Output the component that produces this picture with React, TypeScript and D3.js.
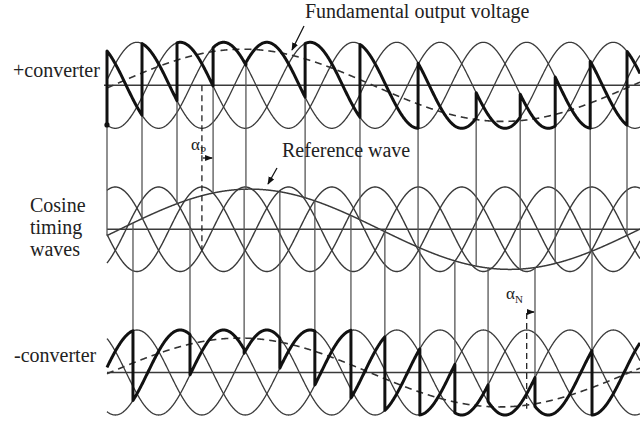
import React, { useEffect } from 'react';
import * as d3 from 'd3';

const W = 640;
const H = 429;

// angles are in electrical degrees of the input supply
const thetaMax = 1477;
// angle at which each input phase voltage peaks
const phasePeaksDeg = [-37, 83, 203];
// angle at which each cosine timing wave peaks
const timingPeaksDeg = [23, 143, 263];
// reference (modulating) wave
const refZeroDeg = 36;
const refPeriodDeg = 1440;
const refAmp = 0.95;
// fundamental output voltage of the + and - converter
const fundAmp = [0.84, 0.81];
const fundZeroDeg = [17, 8];
// firing instants
const firingPos = [0, 97, 194, 294, 385, 549, 701, 862, 1023, 1145, 1242, 1339, 1441];
const firingNeg = [72, 230, 380, 479, 576, 676, 770, 867, 964, 1056, 1186, 1344];
// alpha markers
const alphaPDeg = 263;
const alphaPFiring = 294;
const alphaNDeg = 1163;
const alphaNFiring = 1186;

const rad = Math.PI / 180;
const phaseV = (k: number, th: number) => Math.cos((th - phasePeaksDeg[((k % 3) + 3) % 3]) * rad);
const timingV = (k: number, th: number) => Math.cos((th - timingPeaksDeg[k]) * rad);
const refV = (th: number) => refAmp * Math.sin(((th - refZeroDeg) / refPeriodDeg) * 2 * Math.PI);
const fundV = (i: number, th: number) => fundAmp[i] * Math.sin(((th - fundZeroDeg[i]) / refPeriodDeg) * 2 * Math.PI);

function outputPoints(firings: number[], kStart: number): [number, number][] {
  const pts: [number, number][] = [];
  let k = kStart;
  let prev = 0;
  for (let i = 0; i <= firings.length; i++) {
    const end = i < firings.length ? firings[i] : thetaMax;
    for (let t = prev; t < end; t += 1) pts.push([t, phaseV(k, t)]);
    pts.push([end, phaseV(k, end)]);
    if (i < firings.length) {
      k += 1;
      pts.push([end, phaseV(k, end)]);
    }
    prev = end;
  }
  return pts;
}

export default function App() {
  useEffect(() => {
    document.body.style.margin = '0';
  }, []);

  const x = d3.scaleLinear().domain([0, thetaMax]).range([107, 640]);
  const yTop = d3.scaleLinear().domain([-1, 1]).range([128.3, 42.3]);
  const yMid = d3.scaleLinear().domain([-1, 1]).range([271.5, 187]);
  const yBot = d3.scaleLinear().domain([-1, 1]).range([415, 330]);
  const samples = d3.range(0, thetaMax + 0.5, 1);

  const lineTop = d3.line<[number, number]>().x(d => x(d[0])).y(d => yTop(d[1]));
  const lineMid = d3.line<[number, number]>().x(d => x(d[0])).y(d => yMid(d[1]));
  const lineBot = d3.line<[number, number]>().x(d => x(d[0])).y(d => yBot(d[1]));

  const thin = '#3a3a3a';
  const font = "'Liberation Serif', 'Times New Roman', serif";

  const phaseCurves = [0, 1, 2].map(k => samples.map(t => [t, phaseV(k, t)] as [number, number]));
  const timingCurves = [0, 1, 2].map(k => samples.map(t => [t, timingV(k, t)] as [number, number]));
  const refCurve = samples.map(t => [t, refV(t)] as [number, number]);
  const fundTopCurve = samples.map(t => [t, fundV(0, t)] as [number, number]);
  const fundBotCurve = samples.map(t => [t, fundV(1, t)] as [number, number]);
  const outTop = outputPoints(firingPos, -1);
  const outBot = outputPoints(firingNeg, -2);

  return (
    <svg width={W} height={H} style={{ position: 'absolute', left: 0, top: 0, background: '#fff' }}>
      <defs>
        <marker id="ah" viewBox="0 0 10 10" refX="9" refY="5" markerWidth="6" markerHeight="6" orient="auto">
          <path d="M0,1 L10,5 L0,9 z" fill="#111" />
        </marker>
      </defs>

      {/* axes */}
      <line x1={104} x2={640} y1={yTop(0)} y2={yTop(0)} stroke={thin} strokeWidth={1.5} />
      <line x1={107} x2={640} y1={yMid(0)} y2={yMid(0)} stroke={thin} strokeWidth={1.5} />
      <line x1={107} x2={640} y1={yBot(0)} y2={yBot(0)} stroke={thin} strokeWidth={1.5} />

      {/* thin phase voltages */}
      {phaseCurves.map((c, i) => (
        <path key={'pt' + i} d={lineTop(c) || ''} fill="none" stroke={thin} strokeWidth={1.3} />
      ))}
      {phaseCurves.map((c, i) => (
        <path key={'pb' + i} d={lineBot(c) || ''} fill="none" stroke={thin} strokeWidth={1.3} />
      ))}
      {/* cosine timing waves */}
      {timingCurves.map((c, i) => (
        <path key={'tm' + i} d={lineMid(c) || ''} fill="none" stroke={thin} strokeWidth={1.4} />
      ))}
      <path d={lineMid(refCurve) || ''} fill="none" stroke={thin} strokeWidth={1.5} />

      {/* firing lines */}
      {firingPos.map((t, i) => (
        <line key={'fp' + i} x1={x(t)} x2={x(t)} y1={yTop(phaseV(i, t))} y2={yMid(refV(t))} stroke="#555" strokeWidth={1.3} />
      ))}
      {firingNeg.map((t, j) => (
        <line key={'fn' + j} x1={x(t)} x2={x(t)} y1={yMid(refV(t))} y2={yBot(phaseV(j - 1, t))} stroke="#555" strokeWidth={1.3} />
      ))}

      {/* alpha markers */}
      <line x1={x(alphaPDeg)} x2={x(alphaPDeg)} y1={yTop(0)} y2={yMid(-0.5)} stroke="#222" strokeWidth={1.3} strokeDasharray="6,4" />
      <line x1={x(alphaPDeg) + 1} x2={x(alphaPFiring) - 1} y1={158} y2={158} stroke="#111" strokeWidth={1.3} markerEnd="url(#ah)" />
      <text x={191} y={150} fontFamily={font} fontSize={17} fill="#222">α<tspan fontSize={11} dy={4}>P</tspan></text>

      <line x1={x(alphaNDeg)} x2={x(alphaNDeg)} y1={313} y2={yBot(-0.85)} stroke="#222" strokeWidth={1.3} strokeDasharray="6,4" />
      <line x1={x(alphaNDeg) + 1} x2={x(alphaNFiring) - 1} y1={312} y2={312} stroke="#111" strokeWidth={1.3} markerEnd="url(#ah)" />
      <text x={506} y={299} fontFamily={font} fontSize={17} fill="#222">α<tspan fontSize={11} dy={4}>N</tspan></text>

      {/* fundamental output voltages */}
      <path d={lineTop(fundTopCurve) || ''} fill="none" stroke="#333" strokeWidth={1.6} strokeDasharray="7,5" />
      <path d={lineBot(fundBotCurve) || ''} fill="none" stroke="#333" strokeWidth={1.6} strokeDasharray="7,5" />

      {/* converter outputs */}
      <path d={lineTop(outTop) || ''} fill="none" stroke="#111" strokeWidth={3} strokeLinejoin="round" />
      <path d={lineBot(outBot) || ''} fill="none" stroke="#111" strokeWidth={3} strokeLinejoin="round" />
      <circle cx={x(0)} cy={yTop(phaseV(-1, 0))} r={2.6} fill="#111" />

      {/* labels */}
      <text x={305} y={18} fontFamily={font} fontSize={20} fill="#222">Fundamental output voltage</text>
      <line x1={304} y1={26} x2={292} y2={50} stroke="#111" strokeWidth={1.3} markerEnd="url(#ah)" />
      <text x={282} y={157} fontFamily={font} fontSize={20} fill="#222">Reference wave</text>
      <line x1={277} y1={168} x2={268} y2={184} stroke="#111" strokeWidth={1.3} markerEnd="url(#ah)" />
      <text x={13} y={77} fontFamily={font} fontSize={20} fill="#222">+converter</text>
      <text x={30} y={212} fontFamily={font} fontSize={20} fill="#222">Cosine</text>
      <text x={30} y={234} fontFamily={font} fontSize={20} fill="#222">timing</text>
      <text x={30} y={256} fontFamily={font} fontSize={20} fill="#222">waves</text>
      <text x={14} y={362} fontFamily={font} fontSize={20} fill="#222">-converter</text>
    </svg>
  );
}
